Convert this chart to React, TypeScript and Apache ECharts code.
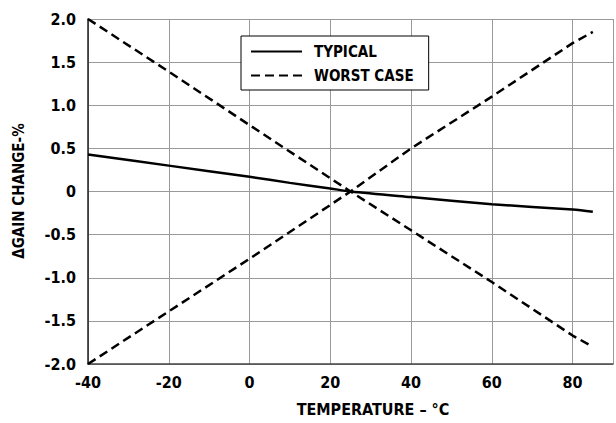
import React, { useEffect, useRef } from "react";
import * as echarts from "echarts";

const TEMPS_TYP = [-40, -20, 0, 10, 20, 25, 40, 60, 80, 85];
const TYPICAL = [0.43, 0.3, 0.17, 0.1, 0.035, 0, -0.065, -0.147, -0.21, -0.235];
const TEMPS_WC = [-40, -20, 0, 25, 40, 60, 80, 85];
const WORST_DOWN = [2.0, 1.39, 0.77, 0, -0.45, -1.05, -1.67, -1.8];
const WORST_UP = [-2.0, -1.39, -0.78, 0, 0.5, 1.1, 1.72, 1.85];
const X_TICKS = [-40, -20, 0, 20, 40, 60, 80];
const Y_TICKS = ["-2.0", "-1.5", "-1.0", "-0.5", "0", "0.5", "1.0", "1.5", "2.0"];

const FONT = "'DejaVu Sans Condensed', 'DejaVu Sans', sans-serif";

const pairs = (xs: number[], ys: number[]) => xs.map((x, i) => [x, ys[i]]);

export default function App() {
  const ref = useRef<HTMLDivElement>(null);
  useEffect(() => {
    if (!ref.current) return;
    const chart = echarts.init(ref.current, null, { renderer: "svg" });
    const lineBase = { type: "line", showSymbol: false, symbol: "none", silent: true };
    chart.setOption({
      animation: false,
      backgroundColor: "#fff",
      grid: { left: 88, top: 19, right: -7, bottom: 59 },
      xAxis: {
        type: "value",
        min: -40,
        max: 90,
        interval: 20,
        axisLine: { show: true, onZero: false, lineStyle: { color: "#444", width: 1.5 } },
        axisTick: { show: false },
        splitLine: { show: true, lineStyle: { color: "#999", width: 1 } },
        axisLabel: {
          color: "#000",
          fontFamily: FONT,
          fontWeight: "bold",
          fontSize: 16,
          margin: 10,
          formatter: (v: number) => (X_TICKS.includes(v) ? String(v) : ""),
        },
      },
      yAxis: {
        type: "value",
        min: -2,
        max: 2,
        interval: 0.5,
        axisLine: { show: true, onZero: false, lineStyle: { color: "#222", width: 1.5 } },
        axisTick: { show: false },
        splitLine: { show: true, lineStyle: { color: "#999", width: 1 } },
        axisLabel: {
          color: "#000",
          fontFamily: FONT,
          fontWeight: "bold",
          fontSize: 16,
          margin: 12,
          formatter: (v: number) => Y_TICKS[Math.round((v + 2) / 0.5)] ?? "",
        },
      },
      legend: {
        orient: "vertical",
        left: 241,
        top: 36,
        backgroundColor: "#fff",
        borderColor: "#000",
        borderWidth: 1,
        padding: [8, 15, 7, 9],
        itemGap: 9,
        itemWidth: 51,
        itemHeight: 14,
        itemStyle: { opacity: 0 },
        data: [{ name: "TYPICAL" }, { name: "WORST CASE" }],
        textStyle: {
          color: "#000",
          fontFamily: FONT,
          fontWeight: "bold",
          fontSize: 15,
          padding: [0, 0, 0, 7],
        },
      },
      graphic: [
        {
          type: "text",
          x: 373,
          y: 409,
          style: {
            text: "TEMPERATURE – °C",
            fill: "#000",
            font: `bold 16px ${FONT}`,
            align: "center",
            verticalAlign: "middle",
          },
        },
        {
          type: "text",
          x: 19,
          y: 191,
          rotation: Math.PI / 2,
          style: {
            text: "ΔGAIN CHANGE-%",
            fill: "#000",
            font: `bold 15px ${FONT}`,
            align: "center",
            verticalAlign: "middle",
          },
        },
      ],
      series: [
        {
          ...lineBase,
          name: "TYPICAL",
          data: pairs(TEMPS_TYP, TYPICAL),
          smooth: 0.3,
          lineStyle: { color: "#000", width: 2.5 },
          itemStyle: { color: "#000" },
        },
        {
          ...lineBase,
          name: "WORST CASE",
          data: pairs(TEMPS_WC, WORST_DOWN),
          lineStyle: { color: "#000", width: 2.5, type: [9, 5] },
          itemStyle: { color: "#000" },
        },
        {
          ...lineBase,
          name: "WORST CASE",
          data: pairs(TEMPS_WC, WORST_UP),
          lineStyle: { color: "#000", width: 2.5, type: [9, 5] },
          itemStyle: { color: "#000" },
        },
      ],
    });
    return () => chart.dispose();
  }, []);
  return <div ref={ref} style={{ position: "fixed", left: 0, top: 0, width: 616, height: 423 }} />;
}
